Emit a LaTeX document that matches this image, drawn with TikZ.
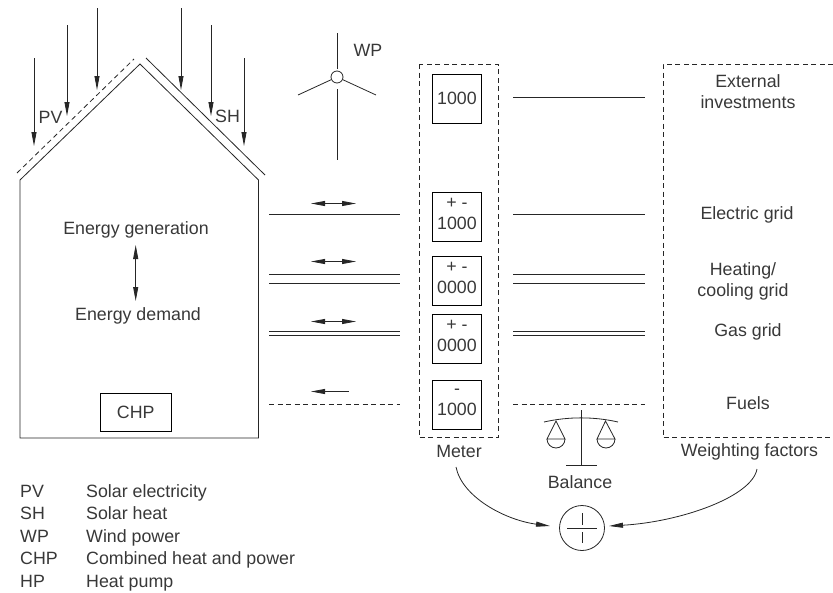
\documentclass[tikz,border=0pt]{standalone}
\usepackage{fontspec}
\setmainfont{Liberation Sans}
\usetikzlibrary{arrows.meta}
\definecolor{inkgray}{gray}{0.22}
\tikzset{
    wire/.style={line width=0.8pt, color=black!85},
    dashwire/.style={wire, dash pattern=on 5pt off 3.5pt},
    sun/.style={wire, -{Triangle[length=14pt,width=5pt]}},
    flow/.style={wire, {Triangle[length=14pt,width=5pt]}-{Triangle[length=14pt,width=5pt]}},
    lab/.style={font=\fontsize{17.8}{21}\selectfont, text=inkgray, inner sep=0pt, align=center},
    meterbox/.style={draw, line width=0.8pt, minimum width=49pt, minimum height=49pt, inner sep=0pt, lab},
}
\begin{document}
\begin{tikzpicture}[x=1pt, y=-1pt]
    \useasboundingbox (0,0) rectangle (833,592);

    % Haus
    \coordinate (HBL) at (20,438);
    \coordinate (HL) at (20,180);
    \coordinate (HTop) at (140,64);
    \coordinate (HR) at (258.5,180);
    \coordinate (HBR) at (258.5,438);
    \draw[wire] (HBL) -- (HL) -- (HTop) -- (HR) -- (HBR) -- cycle;
    \coordinate (PVa) at (17,173);
    \coordinate (PVb) at (134,59);
    \draw[dashwire] (PVa) -- (PVb);
    \coordinate (SHa) at (146,58);
    \coordinate (SHb) at (265,175);
    \draw[wire] (SHa) -- (SHb);

    % Sonne
    \foreach \nr/\px/\py/\qy in {1/34/58/146, 2/67/25/116, 3/97/8/90, 4/181/8/90, 5/211/25/116, 6/244/58/146} {
        \coordinate (S\nr a) at (\px,\py);
        \coordinate (S\nr b) at (\px,\qy);
        \draw[sun] (S\nr a) -- (S\nr b);
    }
    \node[lab] (PV) at (50.5,117) {PV};
    \node[lab] (SH) at (227.5,116) {SH};

    % Windrad
    \node[draw, wire, circle, minimum size=12pt, inner sep=0pt] (WPhub) at (337,77) {};
    \node[lab] (WP) at (368,50) {WP};
    \coordinate (WPtop) at (337,33);
    \coordinate (WPbot) at (337,160);
    \coordinate (WPl) at (298,95);
    \coordinate (WPr) at (376,95);
    \draw[wire] (337,69) -- (WPtop);
    \draw[wire] (337,89) -- (WPbot);
    \draw[wire] (WPhub) -- (WPl);
    \draw[wire] (WPhub) -- (WPr);

    % Innen
    \node[lab] (Gen) at (136,230) {Energy generation};
    \node[lab] (Dem) at (138,316) {Energy demand};
    \draw[flow] (135.7,245) -- (135.7,301);
    \node[draw, line width=0.8pt, lab, minimum width=71.5pt, minimum height=38pt] (CHP) at (135.7,412.5) {CHP};

    % Zaehler
    \draw[dashwire] (419,64) rectangle (498,437.5);
    \node[meterbox] (M1) at (457,98.5) {1000};
    \node[meterbox] (M2) at (457,216.5) {+ -\\1000\\[-16pt]};
    \node[meterbox] (M3) at (457,280.5) {+ -\\0000\\[-16pt]};
    \node[meterbox] (M4) at (457,338.5) {+ -\\0000\\[-16pt]};
    \node[meterbox] (M5) at (457,404.5) {-\\1000\\[-16pt]};
    \node[lab] (Meter) at (459,451) {Meter};

    % Faktoren
    \draw[dashwire] (833,64) -- (663,64) -- (663,437.5) -- (833,437.5);
    \node[lab] (Ext) at (748,92) {External\\investments};
    \node[lab] (Ele) at (747,214.5) {Electric grid};
    \node[lab] (Hea) at (743,281) {Heating/\\cooling grid};
    \node[lab] (Gas) at (748,331.5) {Gas grid};
    \node[lab] (Fue) at (748,403.5) {Fuels};
    \node[lab] (Wei) at (749.5,451.5) {Weighting factors};

    % Leitungen links
    \draw[wire] (269,214.5) -- (400,214.5);
    \draw[wire] (269,274.5) -- (400,274.5);
    \draw[wire] (269,283.5) -- (400,283.5);
    \draw[wire] (269,331.7) -- (400,331.7);
    \draw[wire] (269,335.7) -- (400,335.7);
    \draw[dashwire] (269,404.7) -- (400,404.7);
    \draw[flow] (311,203.5) -- (356,203.5);
    \draw[flow] (311,261.5) -- (356,261.5);
    \draw[flow] (311,321.5) -- (356,321.5);
    \draw[wire, {Triangle[length=14pt,width=5pt]}-] (311,391.5) -- (349,391.5);

    % Leitungen rechts
    \draw[wire] (513,97) -- (645,97);
    \draw[wire] (513,214.5) -- (645,214.5);
    \draw[wire] (513,274.5) -- (645,274.5);
    \draw[wire] (513,283.5) -- (645,283.5);
    \draw[wire] (513,331.7) -- (645,331.7);
    \draw[wire] (513,335.7) -- (645,335.7);
    \draw[dashwire] (513,404.7) -- (645,404.7);

    % Waage
    \draw[wire] (544,422) .. controls (568,416.5) and (594,416.5) .. (618,422);
    \draw[wire] (581.5,410) -- (581.5,465.5);
    \draw[wire] (566,465.5) -- (597,465.5);
    \draw[wire] (547,439) -- (556,421) -- (565,439) -- cycle;
    \draw[wire] (547,439) arc[start angle=180, end angle=0, radius=9];
    \draw[wire] (597,439) -- (605.5,421) -- (615,439) -- cycle;
    \draw[wire] (597,439) arc[start angle=180, end angle=0, radius=9];
    \node[lab] (Bal) at (580,482.5) {Balance};

    % Summe
    \node[draw, wire, circle, minimum size=45pt, inner sep=0pt] (Sum) at (582,528) {};
    \draw[wire] (567,528) -- (597,528);
    \draw[wire] (582,513) -- (582,525);
    \draw[wire] (582,532) -- (582,543);
    \coordinate (MeterEnd) at (456,467);
    \coordinate (WeiEnd) at (757,469);
    \coordinate (SumL) at (550,526);
    \coordinate (SumR) at (609,526);
    \draw[sun] (MeterEnd) .. controls (462,497) and (505,520) .. (SumL);
    \draw[sun] (WeiEnd) .. controls (752,497) and (680,522) .. (SumR);

    % Legende
    \foreach \nr/\kurz/\lang/\ypos in {1/PV/Solar electricity/497, 2/SH/Solar heat/519.5, 3/WP/Wind power/542, 4/CHP/Combined heat and power/564.5, 5/HP/Heat pump/587} {
        \node[lab, anchor=base west] (K\nr) at (20,\ypos) {\kurz};
        \node[lab, anchor=base west] (L\nr) at (86,\ypos) {\lang};
    }
\end{tikzpicture}
\end{document}
